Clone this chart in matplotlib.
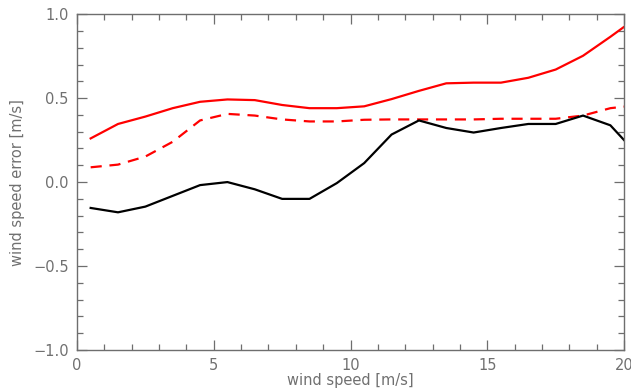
import matplotlib
matplotlib.use("Agg")
import matplotlib.pyplot as plt
from matplotlib.ticker import MultipleLocator, FuncFormatter

# wind speed bins [m/s]
wind_speed = [0.5, 1.5, 2.5, 3.5, 4.5, 5.5, 6.5, 7.5, 8.5, 9.5,
              10.5, 11.5, 12.5, 13.5, 14.5, 15.5, 16.5, 17.5, 18.5, 19.5, 20.0]

# mean error (black)
bias = [-0.154, -0.18, -0.146, -0.082, -0.018, 0.0, -0.043, -0.10, -0.10, -0.006,
        0.113, 0.283, 0.367, 0.322, 0.295, 0.322, 0.346, 0.346, 0.396, 0.338, 0.25]

# upper red solid
rms = [0.26, 0.346, 0.39, 0.44, 0.478, 0.492, 0.488, 0.459, 0.44, 0.44,
       0.451, 0.494, 0.543, 0.588, 0.592, 0.592, 0.621, 0.67, 0.752, 0.865, 0.924]

# red dashed
std = [0.088, 0.104, 0.152, 0.24, 0.367, 0.406, 0.396, 0.373, 0.361, 0.361,
       0.371, 0.373, 0.373, 0.373, 0.373, 0.377, 0.377, 0.377, 0.396, 0.44, 0.449]

axis_col = "#6e6e6e"
text_col = "#707070"

fig = plt.figure(figsize=(6.31, 3.92), dpi=100)
ax = fig.add_axes([0.122, 0.107, 0.867, 0.857])

ax.plot(wind_speed, rms, color="red", lw=1.6)
ax.plot(wind_speed, std, color="red", lw=1.6, dashes=(5, 3.5))
ax.plot(wind_speed, bias, color="black", lw=1.6)

ax.set_xlim(0, 20)
ax.set_ylim(-1.0, 1.0)
ax.xaxis.set_major_locator(MultipleLocator(5))
ax.xaxis.set_minor_locator(MultipleLocator(1))
ax.yaxis.set_major_locator(MultipleLocator(0.5))
ax.yaxis.set_minor_locator(MultipleLocator(0.1))
ax.xaxis.set_major_formatter(FuncFormatter(lambda v, p: f"{v:.0f}"))
ax.yaxis.set_major_formatter(FuncFormatter(lambda v, p: f"{v:.1f}".replace("-", "\u2212")))

ax.tick_params(which="both", direction="in", top=True, right=True,
               color=axis_col, labelcolor=text_col, labelsize=10.5)
ax.tick_params(which="major", length=7, width=0.9, pad=6)
ax.tick_params(which="minor", length=4, width=0.9)
for s in ax.spines.values():
    s.set_color(axis_col)
    s.set_linewidth(1.0)

ax.set_xlabel("wind speed [m/s]", color=text_col, fontsize=10.5, labelpad=0)
ax.set_ylabel("wind speed error [m/s]", color=text_col, fontsize=10.5, labelpad=6)

fig.savefig("out.png", dpi=100)
